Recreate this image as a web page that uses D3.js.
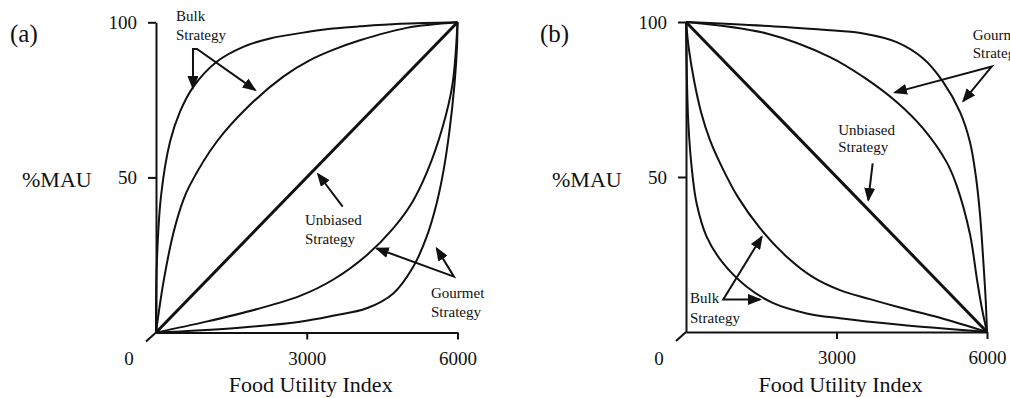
<!DOCTYPE html>
<html><head><meta charset="utf-8">
<script src="https://cdn.jsdelivr.net/npm/d3@7"></script>
<style>
body{margin:0;background:#fff}
svg{display:block}
text{font-family:"Liberation Serif","Times New Roman",serif;fill:#111}
</style></head><body>
<svg id="chart" width="1010" height="398"></svg>
<script>
// Axes
const xDomain = [0, 6000];
const yDomain = [0, 100];
const xTicks = [3000, 6000];
const yTicks = [50, 100];
const originLabel = "0";
const xTitle = "Food Utility Index";
const yTitle = "%MAU";
const panelLabels = ["(a)", "(b)"];

// Panel (a): %MAU rising with the food utility index
const aUnbiasedX = [0, 6000];
const aUnbiasedY = [0, 100];
const aBulkOuterX = [0, 14, 100, 279, 478, 742, 1208, 1737, 2269, 3065, 3522, 4060, 4856, 6000];
const aBulkOuterY = [0, 21.2, 44, 61.5, 71.2, 79.2, 87.3, 92.1, 94.8, 97.0, 98.0, 98.7, 99.5, 100];
const aBulkInnerX = [0, 145, 345, 543, 677, 1208, 1871, 2533, 3065, 3522, 4060, 4989, 6000];
const aBulkInnerY = [0, 15.9, 32, 42.7, 47.6, 61.5, 73.4, 82.5, 87.8, 91.1, 94.2, 98.2, 100];
const aGourmetInnerX = [0, 1000, 2000, 2866, 3522, 4199, 4716, 5100, 5400, 5700, 5900, 6000];
const aGourmetInnerY = [0, 3.5, 7.5, 11.8, 17, 25, 33.5, 42, 52, 66, 80, 100];
const aGourmetOuterX = [0, 1538, 2866, 3522, 4193, 4722, 5120, 5387, 5586, 5720, 5840, 5940, 5990, 6000];
const aGourmetOuterY = [0, 1.4, 3.5, 5.4, 7.8, 12.6, 21.2, 30.9, 41.7, 52, 65, 80, 92, 100];

// Panel (b): %MAU falling with the food utility index
const bUnbiasedX = [0, 6000];
const bUnbiasedY = [100, 0];
const bBulkOuterX = [0, 46, 130, 213, 413, 743, 1210, 1740, 2406, 3069, 4265, 6000];
const bBulkOuterY = [100, 67.6, 50.5, 41.4, 30.7, 22.1, 14.6, 9.3, 6.0, 4.4, 2.3, 0];
const bBulkInnerX = [0, 60, 159, 299, 478, 717, 1036, 1475, 2013, 2531, 3069, 3667, 4265, 5062, 6000];
const bBulkInnerY = [100, 91.0, 81.3, 71.0, 61.9, 53.2, 43.5, 33.5, 24.2, 17.7, 13.5, 10.6, 7.9, 4.6, 0];
const bGourmetOuterX = [0, 1973, 2870, 3534, 4199, 4729, 5128, 5461, 5660, 5780, 5860, 5930, 5975, 6000];
const bGourmetOuterY = [100, 98.4, 97.3, 96.3, 93.5, 88.2, 80.6, 71.0, 61.3, 50, 38, 22, 10, 0];
const bGourmetInnerX = [0, 1608, 2870, 3534, 4199, 4729, 5195, 5394, 5660, 5800, 5900, 6000];
const bGourmetInnerY = [100, 96.3, 88.7, 82.3, 74.2, 65.6, 54.8, 47.3, 31.6, 17, 7.5, 0];

// Strategy labels, placed in data units
const aNotes = [
  {lines: ["Bulk", "Strategy"], x: 398, y: [100.4, 94.3],
   arrow: [[736, 78.8], [736, 91.4], [816, 91.4], [1970, 78.2]], both: true},
  {lines: ["Unbiased", "Strategy"], x: 2965, y: [34.7, 28.5],
   arrow: [[3715, 40.6], [3224, 51.1]], both: false},
  {lines: ["Gourmet", "Strategy"], x: 5473, y: [11.1, 5.0],
   arrow: [[4392, 27.1], [5930, 18.0], [5586, 27.1]], both: true}
];
const bNotes = [
  {lines: ["Gourmet", "Strategy"], x: 5714, y: [94.2, 88.3],
   arrow: [[4165, 77.3], [6093, 85.6], [5527, 74.5]], both: true},
  {lines: ["Unbiased", "Strategy"], x: 3035, y: [63.5, 58.0],
   arrow: [[3721, 54.4], [3633, 42.6]], both: false},
  {lines: ["Bulk", "Strategy"], x: 80, y: [9.3, 3.0],
   arrow: [[1509, 30.7], [743, 10.5], [1475, 10.5]], both: true}
];

const zip = (xs, ys) => xs.map((x, i) => [x, ys[i]]);

const panels = [
  {label: panelLabels[0], xr: [156, 457.5], yr: [332.5, 22.3], notes: aNotes,
   curves: [
     {pts: zip(aBulkOuterX, aBulkOuterY), w: 2},
     {pts: zip(aBulkInnerX, aBulkInnerY), w: 2},
     {pts: zip(aUnbiasedX, aUnbiasedY), w: 3},
     {pts: zip(aGourmetInnerX, aGourmetInnerY), w: 2},
     {pts: zip(aGourmetOuterX, aGourmetOuterY), w: 2}
   ]},
  {label: panelLabels[1], xr: [686, 987], yr: [332, 22], notes: bNotes,
   curves: [
     {pts: zip(bBulkOuterX, bBulkOuterY), w: 2},
     {pts: zip(bBulkInnerX, bBulkInnerY), w: 2},
     {pts: zip(bUnbiasedX, bUnbiasedY), w: 3},
     {pts: zip(bGourmetInnerX, bGourmetInnerY), w: 2},
     {pts: zip(bGourmetOuterX, bGourmetOuterY), w: 2}
   ]}
];

const ink = "#111";
const svg = d3.select("#chart");

svg.append("defs").append("marker")
  .attr("id", "head")
  .attr("markerUnits", "userSpaceOnUse")
  .attr("markerWidth", 14).attr("markerHeight", 11)
  .attr("refX", 12).attr("refY", 5.5)
  .attr("orient", "auto-start-reverse")
  .append("path")
  .attr("d", "M0,0 L14,5.5 L0,11 Z")
  .attr("fill", ink);

panels.forEach(p => {
  const x = d3.scaleLinear().domain(xDomain).range(p.xr);
  const y = d3.scaleLinear().domain(yDomain).range(p.yr);
  const g = svg.append("g");
  const x0 = x(0), y0 = y(0);

  // y axis
  const ya = g.append("g").attr("transform", `translate(${x0},0)`)
    .call(d3.axisLeft(y).tickValues(yTicks).tickFormat(d3.format("d"))
      .tickSize(8).tickSizeOuter(0).tickPadding(11));
  // x axis
  const xa = g.append("g").attr("transform", `translate(0,${y0})`)
    .call(d3.axisBottom(x).tickValues(xTicks).tickFormat(d3.format("d"))
      .tickSize(7).tickSizeOuter(0).tickPadding(12));
  [ya, xa].forEach(a => {
    a.selectAll("path,line").attr("stroke", ink).attr("stroke-width", 2);
    a.selectAll("text").attr("font-size", 19).attr("fill", ink)
      .attr("font-family", '"Liberation Serif","Times New Roman",serif');
  });

  // slanted tick at the origin
  g.append("line")
    .attr("x1", x0).attr("y1", y0).attr("x2", x0 - 10).attr("y2", y0 + 9)
    .attr("stroke", ink).attr("stroke-width", 2);
  g.append("text").attr("x", x0 - 27).attr("y", y0 + 32.5)
    .attr("text-anchor", "middle").attr("font-size", 19).text(originLabel);

  // titles
  g.append("text").attr("x", (p.xr[0] + p.xr[1]) / 2 + 4).attr("y", 392)
    .attr("text-anchor", "middle").attr("font-size", 22).text(xTitle);
  g.append("text").attr("x", x0 - 134).attr("y", 187)
    .attr("font-size", 22).text(yTitle);
  g.append("text").attr("x", x0 - 146).attr("y", 42)
    .attr("font-size", 25).text(p.label);

  // strategy curves
  const line = d3.line().x(d => x(d[0])).y(d => y(d[1]))
    .curve(d3.curveCatmullRom.alpha(0.5));
  g.selectAll(".curve").data(p.curves).join("path")
    .attr("class", "curve")
    .attr("d", c => line(c.pts))
    .attr("fill", "none").attr("stroke", ink)
    .attr("stroke-width", c => c.w)
    .attr("stroke-linejoin", "round");

  // strategy labels with arrows
  const straight = d3.line().x(d => x(d[0])).y(d => y(d[1]));
  p.notes.forEach(n => {
    const t = g.append("text").attr("font-size", 15);
    n.lines.forEach((s, i) => {
      t.append("tspan").attr("x", x(n.x)).attr("y", y(n.y[i])).text(s);
    });
    const a = g.append("path").attr("d", straight(n.arrow))
      .attr("fill", "none").attr("stroke", ink).attr("stroke-width", 2)
      .attr("stroke-linejoin", "miter")
      .attr("marker-end", "url(#head)");
    if (n.both) a.attr("marker-start", "url(#head)");
  });
});
</script>
</body></html>
